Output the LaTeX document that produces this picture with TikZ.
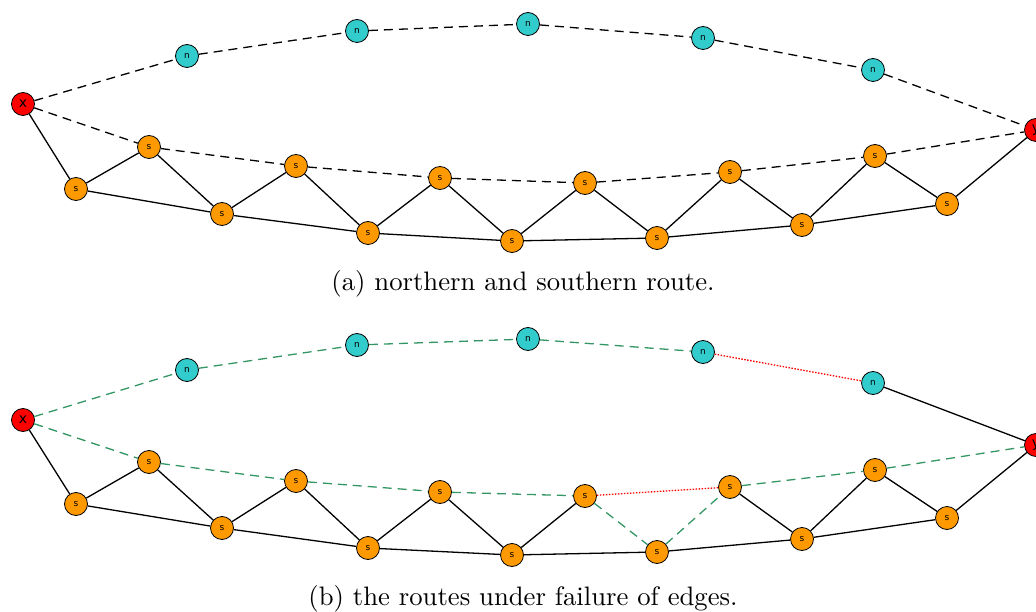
\documentclass[tikz,border=0pt]{standalone}
\usepackage{fontspec}
\usepackage{graphicx}
\newfontfamily\labelfont{DejaVu Sans}
\definecolor{ncol}{RGB}{51,204,204}
\definecolor{scol}{RGB}{255,153,0}
\definecolor{tcol}{RGB}{255,0,0}
\definecolor{okcol}{RGB}{52,150,100}
\definecolor{failcol}{RGB}{255,0,0}
\tikzset{
  vtx/.style={circle,draw=black,line width=0.8pt,minimum size=23pt,inner sep=0pt,font=\labelfont\fontsize{9}{9}\selectfont},
  nvtx/.style={vtx,fill=ncol},
  svtx/.style={vtx,fill=scol},
  tvtx/.style={vtx,fill=tcol,font=\labelfont\fontsize{14}{14}\selectfont},
  edge/.style={line width=1.3pt,black},
  route/.style={line width=1.3pt,black,dash pattern=on 9pt off 6pt},
  okroute/.style={line width=1.3pt,okcol,dash pattern=on 9pt off 6pt},
  failed/.style={line width=1.3pt,failcol,dash pattern=on 1.5pt off 1.5pt},
  caption/.style={font=\normalsize,inner sep=0pt}
}
\newcommand{\captext}[1]{\scalebox{2.67}{#1}}
\begin{document}
\begin{tikzpicture}[x=1pt,y=-1pt]
\useasboundingbox (0,0) rectangle (1036,612);

% ---------- (a) ----------
\begin{scope}
\node[tvtx] (ax) at (23,104) {x};
\node[tvtx] (ay) at (1036,130) {y};
\foreach \i/\px/\py in {1/187/56,2/357/31,3/528/24,4/703/38,5/873/70}
  \node[nvtx] (an\i) at (\px,\py) {n};
\foreach \i/\px/\py in {1/149/147,2/296/166,3/440/178,4/585/183,5/730/172,6/875/156}
  \node[svtx] (au\i) at (\px,\py) {s};
\foreach \i/\px/\py in {1/76/189,2/222/214,3/368/233,4/512/241,5/657/238,6/802/225,7/947/204}
  \node[svtx] (al\i) at (\px,\py) {s};
% northern route
\draw[route] (ax) -- (an1) -- (an2) -- (an3) -- (an4) -- (an5) -- (ay);
% southern route
\draw[route] (ax) -- (au1) -- (au2) -- (au3) -- (au4) -- (au5) -- (au6) -- (ay);
% remaining edges
\draw[edge] (ax) -- (al1) -- (au1) -- (al2) -- (au2) -- (al3) -- (au3) -- (al4)
  -- (au4) -- (al5) -- (au5) -- (al6) -- (au6) -- (al7) -- (ay);
\draw[edge] (al1) -- (al2) -- (al3) -- (al4) -- (al5) -- (al6) -- (al7);
\node[caption] (capa) at (523,284) {\captext{(a) northern and southern route.}};
\end{scope}

% ---------- (b) ----------
\begin{scope}
\node[tvtx] (bx) at (23,420) {x};
\node[tvtx] (by) at (1036,445) {y};
\foreach \i/\px/\py in {1/187/370,2/357/345,3/528/339,4/703/352,5/873/383}
  \node[nvtx] (bn\i) at (\px,\py) {n};
\foreach \i/\px/\py in {1/149/462,2/296/481,3/440/492,4/585/496,5/730/487,6/875/470}
  \node[svtx] (bu\i) at (\px,\py) {s};
\foreach \i/\px/\py in {1/76/504,2/222/528,3/368/548,4/512/555,5/657/552,6/802/539,7/947/518}
  \node[svtx] (bl\i) at (\px,\py) {s};
% northern route with a failed edge
\draw[okroute] (bx) -- (bn1) -- (bn2) -- (bn3) -- (bn4);
\draw[failed] (bn4) -- (bn5);
\draw[edge] (bn5) -- (by);
% southern route with a failed edge and its detour
\draw[okroute] (bx) -- (bu1) -- (bu2) -- (bu3) -- (bu4);
\draw[failed] (bu4) -- (bu5);
\draw[okroute] (bu4) -- (bl5) -- (bu5);
\draw[okroute] (bu5) -- (bu6) -- (by);
% remaining edges
\draw[edge] (bx) -- (bl1) -- (bu1) -- (bl2) -- (bu2) -- (bl3) -- (bu3) -- (bl4) -- (bu4);
\draw[edge] (bu5) -- (bl6) -- (bu6) -- (bl7) -- (by);
\draw[edge] (bl1) -- (bl2) -- (bl3) -- (bl4) -- (bl5) -- (bl6) -- (bl7);
\node[caption] (capb) at (523,599) {\captext{(b) the routes under failure of edges.}};
\end{scope}
\end{tikzpicture}
\end{document}
